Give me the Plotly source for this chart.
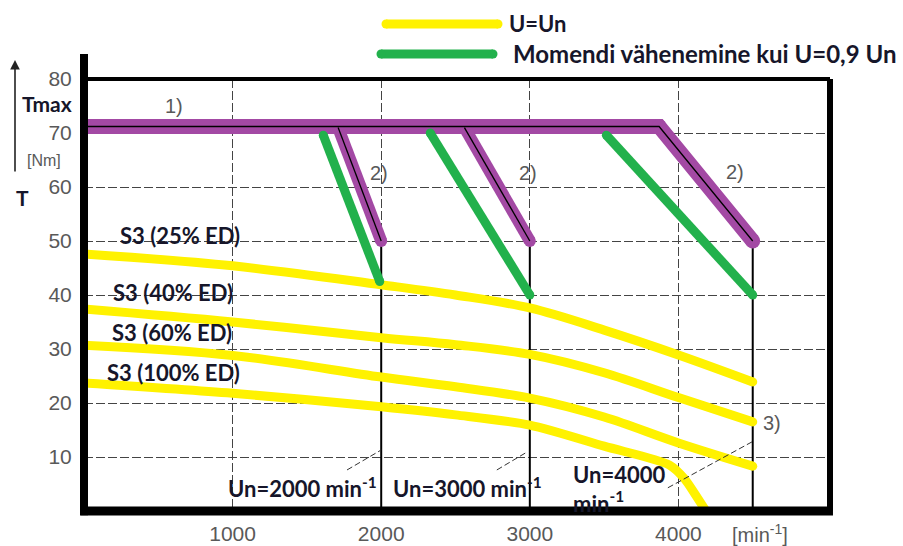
import plotly.graph_objects as go

# ---------------- data ----------------
x_ticks = [1000, 2000, 3000, 4000]
y_ticks = [10, 20, 30, 40, 50, 60, 70, 80]

# yellow curves (U = Un)
s3_25_x = [0, 1000, 2000, 2500, 3000, 3500, 4000, 4500]
s3_25_y = [47.6, 45.4, 41.9, 40.0, 37.6, 33.5, 28.9, 23.9]
s3_40_x = [0, 1000, 2000, 2500, 3000, 3500, 4000, 4500]
s3_40_y = [37.4, 35.0, 32.1, 30.8, 29.0, 25.6, 21.0, 16.5]
s3_60_x = [0, 1000, 2000, 2500, 3000, 3500, 4000, 4500]
s3_60_y = [30.7, 28.8, 24.8, 23.0, 20.9, 17.4, 12.6, 8.3]
s3_100_x = [0, 1000, 2000, 2500, 3000, 3500, 3940, 4040, 4110, 4185]
s3_100_y = [23.7, 21.8, 19.3, 17.8, 15.9, 12.0, 8.5, 6.0, 3.2, 0.0]

# purple envelope (Tmax) and its branches
tmax_x = [0, 3870, 4500]
tmax_y = [71.2, 71.2, 50.0]
branch1_x = [1710, 2000]
branch1_y = [71.0, 50.0]
branch2_x = [2560, 3000]
branch2_y = [71.0, 50.0]

# green lines (U = 0.9 Un)
green1_x = [1610, 1990]
green1_y = [69.6, 42.5]
green2_x = [2330, 3000]
green2_y = [70.0, 40.0]
green3_x = [3515, 4500]
green3_y = [69.6, 40.0]

# solid black verticals at rated speeds
rated_x = [2000, 3000, 4500]
rated_top = [50, 50, 50]

# thin leader lines
leader1_x = [1770, 2000]
leader1_y = [7.6, 11.3]
leader2_x = [2778, 2980]
leader2_y = [7.6, 10.9]
leader3_x = [3929, 4495]
leader3_y = [4.3, 12.8]

curve_labels = ["S3 (25% ED)", "S3 (40% ED)", "S3 (60% ED)", "S3 (100% ED)"]
curve_label_x = [646, 599, 592, 605]
curve_label_y = [51.1, 40.4, 33.0, 25.6]

# ---------------- styles ----------------
YELLOW = "#FFF200"
GREEN = "#22B14C"
PURPLE = "#A349A4"
DARK = "#16162a"
GRAY = "#595959"
BOLD_FONT = "Lato"
TICK_FONT = "Liberation Sans"

fig = go.Figure()


def add_line(x, y, color, width, cap=True, dash=None):
    fig.add_trace(go.Scatter(
        x=x, y=y, mode="lines+markers" if cap else "lines",
        line=dict(color=color, width=width, dash=dash),
        marker=dict(color=color, size=width, line=dict(width=0)),
        hoverinfo="skip", showlegend=False,
    ))


def add_curve(x, y, smoothing=1.0):
    fig.add_trace(go.Scatter(x=x, y=y, mode="lines",
                             line=dict(color=YELLOW, width=9, shape="spline", smoothing=smoothing),
                             hoverinfo="skip", showlegend=False))
    fig.add_trace(go.Scatter(x=[x[-1]], y=[y[-1]], mode="markers",
                             marker=dict(color=YELLOW, size=9), hoverinfo="skip", showlegend=False))


# black verticals
for xv, top in zip(rated_x, rated_top):
    add_line([xv, xv], [0, top], "black", 2, cap=False)

# yellow curves
add_curve(s3_25_x, s3_25_y)
add_curve(s3_40_x, s3_40_y)
add_curve(s3_60_x, s3_60_y)
add_curve(s3_100_x, s3_100_y, smoothing=0.8)

# purple
add_line(tmax_x, tmax_y, PURPLE, 15)
add_line(branch1_x, branch1_y, PURPLE, 12)
add_line(branch2_x, branch2_y, PURPLE, 12)
# thin black centre lines of purple
add_line(tmax_x, tmax_y, "black", 1.3, cap=False)
add_line(branch1_x, branch1_y, "black", 1.3, cap=False)
add_line(branch2_x, branch2_y, "black", 1.3, cap=False)

# green
add_line(green1_x, green1_y, GREEN, 9)
add_line(green2_x, green2_y, GREEN, 9)
add_line(green3_x, green3_y, GREEN, 9)

# leader lines
for lx, ly in [(leader1_x, leader1_y), (leader2_x, leader2_y), (leader3_x, leader3_y)]:
    add_line(lx, ly, "#333333", 1, cap=False, dash="6px,3px")

ann = []
for t, ax_, ay_ in zip(curve_labels, curve_label_x, curve_label_y):
    ann.append(dict(x=ax_, y=ay_, text="<b>%s</b>" % t, showarrow=False,
                    xanchor="center", yanchor="middle",
                    font=dict(family=BOLD_FONT, size=22, color=DARK)))

for t, ax_, ay_ in [("1)", 605, 75.0), ("2)", 1984, 62.6), ("2)", 2986, 62.6),
                    ("2)", 4378, 62.8), ("3)", 4627, 16.3)]:
    ann.append(dict(x=ax_, y=ay_, text=t, showarrow=False, xanchor="center", yanchor="middle",
                    font=dict(family=TICK_FONT, size=20, color=GRAY)))

ann.append(dict(x=1985, y=4.4, text="<b>Un=2000 min<sup>-1</sup></b>", xanchor="right", yanchor="middle",
                showarrow=False, font=dict(family=BOLD_FONT, size=22, color=DARK)))
ann.append(dict(x=2065, y=4.4, text="<b>Un=3000 min<sup>-1</sup></b>", xanchor="left", yanchor="middle",
                showarrow=False, font=dict(family=BOLD_FONT, size=22, color=DARK)))
ann.append(dict(x=3275, y=4.0, text="<b>Un=4000<br>min<sup>-1</sup></b>", xanchor="left", align="left",
                yanchor="middle", showarrow=False, font=dict(family=BOLD_FONT, size=22, color=DARK)))

# axis side labels
PW, PH, L, T0 = 746.0, 432.0, 84.0, 79.0


def px(xp):
    return (xp - L) / PW


def py(yp):
    return (T0 + PH - yp) / PH


def pann(x, y, text, font, xanchor="center"):
    ann.append(dict(xref="paper", yref="paper", x=px(x), y=py(y), text=text, showarrow=False,
                    xanchor=xanchor, yanchor="middle", font=font))


pann(760, 533, "[min<sup>-1</sup>]", dict(family=TICK_FONT, size=20, color=GRAY))
pann(47, 103, "<b>Tmax</b>", dict(family=BOLD_FONT, size=21, color=DARK))
pann(44, 160, "[Nm]", dict(family=TICK_FONT, size=16, color=GRAY))
pann(22, 197, "<b>T</b>", dict(family=BOLD_FONT, size=21, color=DARK))
pann(507, 24, "<b>U=Un</b>", dict(family=BOLD_FONT, size=22, color=DARK), xanchor="left")
pann(511, 53, "<b>Momendi vähenemine kui U=0,9 Un</b>", dict(family=BOLD_FONT, size=24, color=DARK),
     xanchor="left")

# arrow on the left
ann.append(dict(xref="paper", yref="paper", x=px(15), y=py(60), text="",
                showarrow=True, axref="pixel", ayref="pixel", ax=0, ay=113,
                arrowhead=2, arrowsize=1.2, arrowwidth=1.6, arrowcolor="#222222"))


def legend_sample(x0, x1, yv, color, w=9):
    r_x = (w / 2.0) / PW
    r_y = (w / 2.0) / PH
    out = [dict(type="line", xref="paper", yref="paper", x0=px(x0), x1=px(x1), y0=py(yv), y1=py(yv),
                line=dict(color=color, width=w))]
    for xe in (x0, x1):
        out.append(dict(type="circle", xref="paper", yref="paper",
                        x0=px(xe) - r_x, x1=px(xe) + r_x, y0=py(yv) - r_y, y1=py(yv) + r_y,
                        fillcolor=color, line=dict(width=0)))
    return out


shapes = legend_sample(386, 498, 24, YELLOW) + legend_sample(381, 493, 54, GREEN) + [
    # frame
    dict(type="line", xref="paper", yref="paper", x0=0, x1=1, y0=1.0, y1=1.0,
         line=dict(color="black", width=4)),
    dict(type="line", xref="paper", yref="paper", x0=1, x1=1, y0=0, y1=1.0,
         line=dict(color="black", width=6)),
    dict(type="line", xref="paper", yref="paper", x0=-0.005, x1=1.004, y0=0, y1=0,
         line=dict(color="black", width=9)),
    dict(type="line", xref="paper", yref="paper", x0=0, x1=0, y0=-0.01, y1=py(54),
         line=dict(color="black", width=8)),
]

grid = dict(showgrid=True, gridcolor="#444444", gridwidth=1, griddash="9px,3px",
            zeroline=False, showline=False, ticks="outside", tickcolor="rgba(0,0,0,0)",
            automargin=False,
            tickfont=dict(family=TICK_FONT, size=21, color=GRAY))

fig.update_layout(
    width=903, height=546,
    margin=dict(l=84, r=73, t=79, b=35, autoexpand=False),
    paper_bgcolor="white", plot_bgcolor="white",
    showlegend=False,
    xaxis=dict(range=[0, 5020], tickvals=x_ticks, ticklen=4, **grid),
    yaxis=dict(range=[0, 80], tickvals=y_ticks, ticklen=7, **grid),
    annotations=ann, shapes=shapes,
)

fig.write_html("out.html", config={"displayModeBar": False},
               post_script="document.body.style.margin='0';")
